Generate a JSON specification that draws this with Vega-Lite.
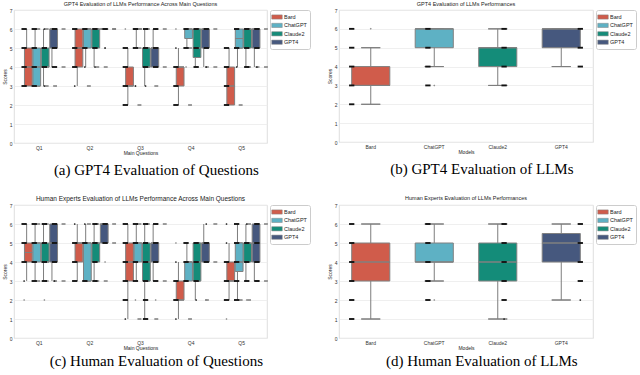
{
"$schema": "https://vega.github.io/schema/vega-lite/v6.json",
"background": "white",
"padding": {"left": 1, "top": 1, "right": 0, "bottom": 0},
"config": {
  "font": "Liberation Sans",
  "view": {"stroke": "#d6d6d6", "strokeWidth": 0.8},
  "axis": {"labelFontSize": 5, "titleFontSize": 5, "titleFontWeight": "normal", "labelColor": "#333333", "titleColor": "#222222", "ticks": false, "domain": false, "labelPadding": 2, "titlePadding": 2, "gridColor": "#ebebeb", "gridWidth": 0.8, "labelOverlap": false},
  "axisX": {"grid": false, "labelAngle": 0, "labelPadding": 2, "titlePadding": 0},
  "axisY": {"tickCount": 8, "grid": true},
  "title": {"fontSize": 5.5, "fontWeight": "normal", "color": "#222222", "offset": 1},
  "legend": {"orient": "right", "offset": 3, "padding": 3, "strokeColor": "#cccccc", "fillColor": "white", "cornerRadius": 2, "labelFontSize": 5.5, "labelColor": "#222222", "symbolType": "M-1.5,-0.6H1.5V0.6H-1.5Z", "symbolSize": 49, "symbolStrokeWidth": 0.5, "rowPadding": 0.4, "labelOffset": 3},
  "concat": {"spacing": 15}
},
"datasets": {
  "bx": [
    {"p":"a","q":"Q1","m":"Bard","lo":3,"q1":3,"md":4,"q3":5,"hi":6},
    {"p":"a","q":"Q1","m":"ChatGPT","lo":3,"q1":3,"md":4,"q3":5,"hi":6},
    {"p":"a","q":"Q1","m":"Claude2","lo":3,"q1":4,"md":4,"q3":5,"hi":6},
    {"p":"a","q":"Q1","m":"GPT4","lo":4,"q1":5,"md":6,"q3":6,"hi":6},
    {"p":"a","q":"Q2","m":"Bard","lo":3,"q1":4,"md":5,"q3":6,"hi":6},
    {"p":"a","q":"Q2","m":"ChatGPT","lo":4,"q1":5,"md":6,"q3":6,"hi":6},
    {"p":"a","q":"Q2","m":"Claude2","lo":4,"q1":5,"md":6,"q3":6,"hi":6},
    {"p":"a","q":"Q2","m":"GPT4","lo":6,"q1":6,"md":6,"q3":6,"hi":6},
    {"p":"a","q":"Q3","m":"Bard","lo":2,"q1":3,"md":3,"q3":4,"hi":5},
    {"p":"a","q":"Q3","m":"ChatGPT","lo":5,"q1":6,"md":6,"q3":6,"hi":6},
    {"p":"a","q":"Q3","m":"Claude2","lo":3,"q1":4,"md":4,"q3":5,"hi":6},
    {"p":"a","q":"Q3","m":"GPT4","lo":4,"q1":4,"md":5,"q3":5,"hi":6},
    {"p":"a","q":"Q4","m":"Bard","lo":2,"q1":3,"md":4,"q3":4,"hi":5},
    {"p":"a","q":"Q4","m":"ChatGPT","lo":5,"q1":5.5,"md":6,"q3":6,"hi":6},
    {"p":"a","q":"Q4","m":"Claude2","lo":4,"q1":4.5,"md":5,"q3":6,"hi":6},
    {"p":"a","q":"Q4","m":"GPT4","lo":4,"q1":5,"md":6,"q3":6,"hi":6},
    {"p":"a","q":"Q5","m":"Bard","lo":2,"q1":2,"md":3,"q3":4,"hi":5},
    {"p":"a","q":"Q5","m":"ChatGPT","lo":4,"q1":5,"md":5.5,"q3":6,"hi":6},
    {"p":"a","q":"Q5","m":"Claude2","lo":4,"q1":5,"md":6,"q3":6,"hi":6},
    {"p":"a","q":"Q5","m":"GPT4","lo":4,"q1":5,"md":6,"q3":6,"hi":6},
    {"p":"b","m":"Bard","lo":2,"q1":3,"md":3,"q3":4,"hi":5},
    {"p":"b","m":"ChatGPT","lo":4,"q1":5,"md":6,"q3":6,"hi":6},
    {"p":"b","m":"Claude2","lo":3,"q1":4,"md":5,"q3":5,"hi":6},
    {"p":"b","m":"GPT4","lo":4,"q1":5,"md":6,"q3":6,"hi":6},
    {"p":"c","q":"Q1","m":"Bard","lo":3,"q1":4,"md":4.5,"q3":5,"hi":6},
    {"p":"c","q":"Q1","m":"ChatGPT","lo":3,"q1":4,"md":5,"q3":5,"hi":6},
    {"p":"c","q":"Q1","m":"Claude2","lo":3,"q1":4,"md":4,"q3":5,"hi":6},
    {"p":"c","q":"Q1","m":"GPT4","lo":3,"q1":4,"md":5,"q3":6,"hi":6},
    {"p":"c","q":"Q2","m":"Bard","lo":3,"q1":4,"md":5,"q3":5,"hi":6},
    {"p":"c","q":"Q2","m":"ChatGPT","lo":3,"q1":3,"md":5,"q3":5,"hi":6},
    {"p":"c","q":"Q2","m":"Claude2","lo":3,"q1":4,"md":5,"q3":5,"hi":6},
    {"p":"c","q":"Q2","m":"GPT4","lo":5,"q1":5,"md":6,"q3":6,"hi":6},
    {"p":"c","q":"Q3","m":"Bard","lo":1,"q1":3,"md":4,"q3":5,"hi":6},
    {"p":"c","q":"Q3","m":"ChatGPT","lo":3,"q1":4,"md":5,"q3":5,"hi":6},
    {"p":"c","q":"Q3","m":"Claude2","lo":1,"q1":3,"md":4,"q3":5,"hi":6},
    {"p":"c","q":"Q3","m":"GPT4","lo":3,"q1":4,"md":5,"q3":5,"hi":6},
    {"p":"c","q":"Q4","m":"Bard","lo":1,"q1":2,"md":2,"q3":3,"hi":4},
    {"p":"c","q":"Q4","m":"ChatGPT","lo":3,"q1":3,"md":4,"q3":4,"hi":5},
    {"p":"c","q":"Q4","m":"Claude2","lo":2,"q1":3,"md":4,"q3":5,"hi":5},
    {"p":"c","q":"Q4","m":"GPT4","lo":4,"q1":4,"md":5,"q3":5,"hi":6},
    {"p":"c","q":"Q5","m":"Bard","lo":2,"q1":3,"md":3,"q3":4,"hi":5},
    {"p":"c","q":"Q5","m":"ChatGPT","lo":2,"q1":3.5,"md":4,"q3":5,"hi":6},
    {"p":"c","q":"Q5","m":"Claude2","lo":3,"q1":4,"md":5,"q3":5,"hi":6},
    {"p":"c","q":"Q5","m":"GPT4","lo":3,"q1":4,"md":5,"q3":6,"hi":6},
    {"p":"d","m":"Bard","lo":1,"q1":3,"md":4,"q3":5,"hi":6},
    {"p":"d","m":"ChatGPT","lo":3,"q1":4,"md":4,"q3":5,"hi":6},
    {"p":"d","m":"Claude2","lo":1,"q1":3,"md":4,"q3":5,"hi":6},
    {"p":"d","m":"GPT4","lo":2,"q1":4,"md":5,"q3":5.5,"hi":6}
  ],
  "fl": [
    {"p":"a","q":"Q2","m":"GPT4","s":5},
    {"p":"a","q":"Q3","m":"Bard","s":6},
    {"p":"a","q":"Q3","m":"ChatGPT","s":3},
    {"p":"a","q":"Q4","m":"Bard","s":6},
    {"p":"a","q":"Q4","m":"ChatGPT","s":4},
    {"p":"b","m":"Bard","s":6},
    {"p":"b","m":"ChatGPT","s":3},
    {"p":"c","q":"Q1","m":"Bard","s":2},
    {"p":"c","q":"Q1","m":"Claude2","s":2},
    {"p":"c","q":"Q2","m":"GPT4","s":4},
    {"p":"c","q":"Q3","m":"ChatGPT","s":2},
    {"p":"c","q":"Q3","m":"GPT4","s":2},
    {"p":"c","q":"Q4","m":"Bard","s":5},
    {"p":"c","q":"Q4","m":"GPT4","s":2},
    {"p":"c","q":"Q5","m":"Bard","s":1},
    {"p":"c","q":"Q5","m":"Claude2","s":2},
    {"p":"d","m":"ChatGPT","s":2}
  ],
  "pt": [
    {"p":"a","q":"Q1","m":"Bard","s":3,"k":"m"},{"p":"a","q":"Q1","m":"Bard","s":4,"k":"m"},{"p":"a","q":"Q1","m":"Bard","s":5,"k":"m"},{"p":"a","q":"Q1","m":"Bard","s":6,"k":"m"},
    {"p":"a","q":"Q1","m":"ChatGPT","s":3,"k":"m"},{"p":"a","q":"Q1","m":"ChatGPT","s":4,"k":"m"},{"p":"a","q":"Q1","m":"ChatGPT","s":5,"k":"m"},{"p":"a","q":"Q1","m":"ChatGPT","s":6,"k":"m"},
    {"p":"a","q":"Q1","m":"Claude2","s":3,"k":"f"},{"p":"a","q":"Q1","m":"Claude2","s":4,"k":"m"},{"p":"a","q":"Q1","m":"Claude2","s":5,"k":"m"},{"p":"a","q":"Q1","m":"Claude2","s":6,"k":"f"},
    {"p":"a","q":"Q1","m":"GPT4","s":4,"k":"m"},{"p":"a","q":"Q1","m":"GPT4","s":5,"k":"m"},{"p":"a","q":"Q1","m":"GPT4","s":6,"k":"m"},
    {"p":"a","q":"Q2","m":"Bard","s":3,"k":"f"},{"p":"a","q":"Q2","m":"Bard","s":4,"k":"m"},{"p":"a","q":"Q2","m":"Bard","s":5,"k":"m"},{"p":"a","q":"Q2","m":"Bard","s":6,"k":"m"},
    {"p":"a","q":"Q2","m":"ChatGPT","s":4,"k":"f"},{"p":"a","q":"Q2","m":"ChatGPT","s":5,"k":"m"},{"p":"a","q":"Q2","m":"ChatGPT","s":6,"k":"m"},
    {"p":"a","q":"Q2","m":"Claude2","s":4,"k":"f"},{"p":"a","q":"Q2","m":"Claude2","s":5,"k":"m"},{"p":"a","q":"Q2","m":"Claude2","s":6,"k":"m"},
    {"p":"a","q":"Q2","m":"GPT4","s":5,"k":"f"},{"p":"a","q":"Q2","m":"GPT4","s":6,"k":"m"},
    {"p":"a","q":"Q3","m":"Bard","s":2,"k":"m"},{"p":"a","q":"Q3","m":"Bard","s":3,"k":"m"},{"p":"a","q":"Q3","m":"Bard","s":4,"k":"m"},{"p":"a","q":"Q3","m":"Bard","s":5,"k":"m"},
    {"p":"a","q":"Q3","m":"ChatGPT","s":3,"k":"f"},{"p":"a","q":"Q3","m":"ChatGPT","s":5,"k":"m"},{"p":"a","q":"Q3","m":"ChatGPT","s":6,"k":"m"},
    {"p":"a","q":"Q3","m":"Claude2","s":3,"k":"f"},{"p":"a","q":"Q3","m":"Claude2","s":4,"k":"m"},{"p":"a","q":"Q3","m":"Claude2","s":5,"k":"m"},{"p":"a","q":"Q3","m":"Claude2","s":6,"k":"m"},
    {"p":"a","q":"Q3","m":"GPT4","s":4,"k":"m"},{"p":"a","q":"Q3","m":"GPT4","s":5,"k":"m"},{"p":"a","q":"Q3","m":"GPT4","s":6,"k":"m"},
    {"p":"a","q":"Q4","m":"Bard","s":2,"k":"m"},{"p":"a","q":"Q4","m":"Bard","s":3,"k":"m"},{"p":"a","q":"Q4","m":"Bard","s":4,"k":"m"},{"p":"a","q":"Q4","m":"Bard","s":5,"k":"f"},
    {"p":"a","q":"Q4","m":"ChatGPT","s":5,"k":"m"},{"p":"a","q":"Q4","m":"ChatGPT","s":6,"k":"m"},
    {"p":"a","q":"Q4","m":"Claude2","s":4,"k":"m"},{"p":"a","q":"Q4","m":"Claude2","s":5,"k":"m"},{"p":"a","q":"Q4","m":"Claude2","s":6,"k":"m"},
    {"p":"a","q":"Q4","m":"GPT4","s":4,"k":"f"},{"p":"a","q":"Q4","m":"GPT4","s":5,"k":"m"},{"p":"a","q":"Q4","m":"GPT4","s":6,"k":"m"},
    {"p":"a","q":"Q5","m":"Bard","s":2,"k":"m"},{"p":"a","q":"Q5","m":"Bard","s":3,"k":"m"},{"p":"a","q":"Q5","m":"Bard","s":4,"k":"m"},{"p":"a","q":"Q5","m":"Bard","s":5,"k":"m"},
    {"p":"a","q":"Q5","m":"ChatGPT","s":4,"k":"f"},{"p":"a","q":"Q5","m":"ChatGPT","s":5,"k":"m"},{"p":"a","q":"Q5","m":"ChatGPT","s":6,"k":"m"},
    {"p":"a","q":"Q5","m":"Claude2","s":4,"k":"m"},{"p":"a","q":"Q5","m":"Claude2","s":5,"k":"m"},{"p":"a","q":"Q5","m":"Claude2","s":6,"k":"m"},
    {"p":"a","q":"Q5","m":"GPT4","s":4,"k":"f"},{"p":"a","q":"Q5","m":"GPT4","s":5,"k":"m"},{"p":"a","q":"Q5","m":"GPT4","s":6,"k":"m"},
    {"p":"b","m":"Bard","s":2,"k":"m"},{"p":"b","m":"Bard","s":3,"k":"m"},{"p":"b","m":"Bard","s":4,"k":"m"},{"p":"b","m":"Bard","s":5,"k":"m"},{"p":"b","m":"Bard","s":6,"k":"m"},
    {"p":"b","m":"ChatGPT","s":3,"k":"m"},{"p":"b","m":"ChatGPT","s":4,"k":"m"},{"p":"b","m":"ChatGPT","s":5,"k":"m"},{"p":"b","m":"ChatGPT","s":6,"k":"m"},
    {"p":"b","m":"Claude2","s":3,"k":"m"},{"p":"b","m":"Claude2","s":4,"k":"m"},{"p":"b","m":"Claude2","s":5,"k":"m"},{"p":"b","m":"Claude2","s":6,"k":"m"},
    {"p":"b","m":"GPT4","s":4,"k":"m"},{"p":"b","m":"GPT4","s":5,"k":"m"},{"p":"b","m":"GPT4","s":6,"k":"m"},
    {"p":"c","q":"Q1","m":"Bard","s":3,"k":"f"},{"p":"c","q":"Q1","m":"Bard","s":4,"k":"m"},{"p":"c","q":"Q1","m":"Bard","s":5,"k":"m"},{"p":"c","q":"Q1","m":"Bard","s":6,"k":"m"},
    {"p":"c","q":"Q1","m":"ChatGPT","s":3,"k":"m"},{"p":"c","q":"Q1","m":"ChatGPT","s":4,"k":"m"},{"p":"c","q":"Q1","m":"ChatGPT","s":5,"k":"m"},{"p":"c","q":"Q1","m":"ChatGPT","s":6,"k":"m"},
    {"p":"c","q":"Q1","m":"Claude2","s":3,"k":"m"},{"p":"c","q":"Q1","m":"Claude2","s":4,"k":"m"},{"p":"c","q":"Q1","m":"Claude2","s":5,"k":"m"},{"p":"c","q":"Q1","m":"Claude2","s":6,"k":"m"},
    {"p":"c","q":"Q1","m":"GPT4","s":3,"k":"f"},{"p":"c","q":"Q1","m":"GPT4","s":4,"k":"m"},{"p":"c","q":"Q1","m":"GPT4","s":5,"k":"m"},{"p":"c","q":"Q1","m":"GPT4","s":6,"k":"m"},
    {"p":"c","q":"Q2","m":"Bard","s":3,"k":"m"},{"p":"c","q":"Q2","m":"Bard","s":4,"k":"m"},{"p":"c","q":"Q2","m":"Bard","s":5,"k":"m"},{"p":"c","q":"Q2","m":"Bard","s":6,"k":"f"},
    {"p":"c","q":"Q2","m":"ChatGPT","s":3,"k":"m"},{"p":"c","q":"Q2","m":"ChatGPT","s":5,"k":"m"},{"p":"c","q":"Q2","m":"ChatGPT","s":6,"k":"f"},
    {"p":"c","q":"Q2","m":"Claude2","s":3,"k":"m"},{"p":"c","q":"Q2","m":"Claude2","s":4,"k":"m"},{"p":"c","q":"Q2","m":"Claude2","s":5,"k":"m"},{"p":"c","q":"Q2","m":"Claude2","s":6,"k":"m"},
    {"p":"c","q":"Q2","m":"GPT4","s":5,"k":"m"},{"p":"c","q":"Q2","m":"GPT4","s":6,"k":"m"},
    {"p":"c","q":"Q3","m":"Bard","s":1,"k":"f"},{"p":"c","q":"Q3","m":"Bard","s":2,"k":"m"},{"p":"c","q":"Q3","m":"Bard","s":3,"k":"m"},{"p":"c","q":"Q3","m":"Bard","s":4,"k":"m"},{"p":"c","q":"Q3","m":"Bard","s":5,"k":"m"},{"p":"c","q":"Q3","m":"Bard","s":6,"k":"m"},
    {"p":"c","q":"Q3","m":"ChatGPT","s":3,"k":"m"},{"p":"c","q":"Q3","m":"ChatGPT","s":4,"k":"m"},{"p":"c","q":"Q3","m":"ChatGPT","s":5,"k":"m"},{"p":"c","q":"Q3","m":"ChatGPT","s":6,"k":"m"},
    {"p":"c","q":"Q3","m":"Claude2","s":1,"k":"m"},{"p":"c","q":"Q3","m":"Claude2","s":2,"k":"m"},{"p":"c","q":"Q3","m":"Claude2","s":3,"k":"m"},{"p":"c","q":"Q3","m":"Claude2","s":4,"k":"m"},{"p":"c","q":"Q3","m":"Claude2","s":5,"k":"m"},{"p":"c","q":"Q3","m":"Claude2","s":6,"k":"m"},
    {"p":"c","q":"Q3","m":"GPT4","s":3,"k":"m"},{"p":"c","q":"Q3","m":"GPT4","s":4,"k":"m"},{"p":"c","q":"Q3","m":"GPT4","s":5,"k":"m"},{"p":"c","q":"Q3","m":"GPT4","s":6,"k":"m"},
    {"p":"c","q":"Q4","m":"Bard","s":1,"k":"f"},{"p":"c","q":"Q4","m":"Bard","s":2,"k":"m"},{"p":"c","q":"Q4","m":"Bard","s":3,"k":"m"},{"p":"c","q":"Q4","m":"Bard","s":4,"k":"f"},
    {"p":"c","q":"Q4","m":"ChatGPT","s":3,"k":"m"},{"p":"c","q":"Q4","m":"ChatGPT","s":4,"k":"m"},{"p":"c","q":"Q4","m":"ChatGPT","s":5,"k":"m"},
    {"p":"c","q":"Q4","m":"Claude2","s":2,"k":"f"},{"p":"c","q":"Q4","m":"Claude2","s":3,"k":"m"},{"p":"c","q":"Q4","m":"Claude2","s":4,"k":"m"},{"p":"c","q":"Q4","m":"Claude2","s":5,"k":"m"},
    {"p":"c","q":"Q4","m":"GPT4","s":4,"k":"m"},{"p":"c","q":"Q4","m":"GPT4","s":5,"k":"m"},{"p":"c","q":"Q4","m":"GPT4","s":6,"k":"f"},
    {"p":"c","q":"Q5","m":"Bard","s":2,"k":"m"},{"p":"c","q":"Q5","m":"Bard","s":3,"k":"m"},{"p":"c","q":"Q5","m":"Bard","s":4,"k":"m"},{"p":"c","q":"Q5","m":"Bard","s":5,"k":"f"},{"p":"c","q":"Q5","m":"Bard","s":6,"k":"f"},
    {"p":"c","q":"Q5","m":"ChatGPT","s":2,"k":"m"},{"p":"c","q":"Q5","m":"ChatGPT","s":3,"k":"m"},{"p":"c","q":"Q5","m":"ChatGPT","s":4,"k":"m"},{"p":"c","q":"Q5","m":"ChatGPT","s":5,"k":"m"},{"p":"c","q":"Q5","m":"ChatGPT","s":6,"k":"m"},
    {"p":"c","q":"Q5","m":"Claude2","s":3,"k":"m"},{"p":"c","q":"Q5","m":"Claude2","s":4,"k":"m"},{"p":"c","q":"Q5","m":"Claude2","s":5,"k":"m"},{"p":"c","q":"Q5","m":"Claude2","s":6,"k":"f"},
    {"p":"c","q":"Q5","m":"GPT4","s":3,"k":"m"},{"p":"c","q":"Q5","m":"GPT4","s":4,"k":"m"},{"p":"c","q":"Q5","m":"GPT4","s":5,"k":"m"},{"p":"c","q":"Q5","m":"GPT4","s":6,"k":"m"},
    {"p":"d","m":"Bard","s":1,"k":"m"},{"p":"d","m":"Bard","s":2,"k":"m"},{"p":"d","m":"Bard","s":3,"k":"m"},{"p":"d","m":"Bard","s":4,"k":"m"},{"p":"d","m":"Bard","s":5,"k":"m"},{"p":"d","m":"Bard","s":6,"k":"m"},
    {"p":"d","m":"ChatGPT","s":2,"k":"m"},{"p":"d","m":"ChatGPT","s":3,"k":"m"},{"p":"d","m":"ChatGPT","s":4,"k":"m"},{"p":"d","m":"ChatGPT","s":5,"k":"m"},{"p":"d","m":"ChatGPT","s":6,"k":"m"},
    {"p":"d","m":"Claude2","s":1,"k":"f"},{"p":"d","m":"Claude2","s":2,"k":"m"},{"p":"d","m":"Claude2","s":3,"k":"m"},{"p":"d","m":"Claude2","s":4,"k":"m"},{"p":"d","m":"Claude2","s":5,"k":"m"},{"p":"d","m":"Claude2","s":6,"k":"m"},
    {"p":"d","m":"GPT4","s":2,"k":"f"},{"p":"d","m":"GPT4","s":3,"k":"m"},{"p":"d","m":"GPT4","s":4,"k":"m"},{"p":"d","m":"GPT4","s":5,"k":"m"},{"p":"d","m":"GPT4","s":6,"k":"m"}
  ]
},
"resolve": {"scale": {"color": "independent"}, "legend": {"color": "independent"}},
"spacing": 16,
"vconcat": [
 {"hconcat": [
  {"vconcat": [
   {"width": 253, "height": 133,
    "title": {"text": "GPT4 Evaluation of LLMs Performance Across Main Questions"},
    "resolve": {"scale": {"xOffset": "independent"}},
    "layer": [
     {"data": {"name": "bx"}, "transform": [{"filter": "datum.p == 'a'"}],
      "mark": {"type": "rule", "color": "#7d7d7d", "strokeWidth": 1},
      "encoding": {
       "x": {"field": "q", "type": "nominal", "scale": {"paddingInner": 0, "paddingOuter": 0}, "axis": {"title": "Main Questions"}},
       "xOffset": {"field": "m", "type": "nominal", "scale": {"domain": ["Bard","ChatGPT","Claude2","GPT4"], "paddingInner": 0, "paddingOuter": 1.333}},
       "y": {"field": "lo", "type": "quantitative", "scale": {"domain": [0, 7], "nice": false}, "axis": {"title": "Scores", "values": [0,1,2,3,4,5,6,7], "tickCount": 8, "grid": true}},
       "y2": {"field": "hi"}}},
     {"data": {"name": "bx"}, "transform": [{"filter": "datum.p == 'a'"}, {"fold": ["lo", "hi"], "as": ["w", "v"]}],
      "mark": {"type": "bar", "width": {"band": 0.45}, "fillOpacity": 0, "stroke": "#7d7d7d", "strokeWidth": 1},
      "encoding": {
       "x": {"field": "q", "type": "nominal"},
       "xOffset": {"field": "m", "type": "nominal", "scale": {"domain": ["Bard","ChatGPT","Claude2","GPT4"], "paddingInner": 0, "paddingOuter": 1.333}},
       "y": {"field": "v", "type": "quantitative"}, "y2": {"field": "v"}}},
     {"data": {"name": "bx"}, "transform": [{"filter": "datum.p == 'a'"}],
      "mark": {"type": "bar", "width": {"band": 0.92}, "stroke": "#808080", "strokeWidth": 1},
      "encoding": {
       "x": {"field": "q", "type": "nominal"},
       "xOffset": {"field": "m", "type": "nominal", "scale": {"domain": ["Bard","ChatGPT","Claude2","GPT4"], "paddingInner": 0, "paddingOuter": 1.333}},
       "y": {"field": "q1", "type": "quantitative"}, "y2": {"field": "q3"},
       "color": {"field": "m", "type": "nominal", "scale": {"domain": ["Bard","ChatGPT","Claude2","GPT4"], "range": ["#D05C4B","#5EB1C4","#148C79","#46587E"]}, "legend": {"title": null}}}},
     {"data": {"name": "bx"}, "transform": [{"filter": "datum.p == 'a'"}],
      "mark": {"type": "bar", "width": {"band": 0.92}, "fillOpacity": 0, "stroke": "#808080", "strokeWidth": 1},
      "encoding": {
       "x": {"field": "q", "type": "nominal"},
       "xOffset": {"field": "m", "type": "nominal", "scale": {"domain": ["Bard","ChatGPT","Claude2","GPT4"], "paddingInner": 0, "paddingOuter": 1.333}},
       "y": {"field": "md", "type": "quantitative"}, "y2": {"field": "md"}}},
     {"data": {"name": "fl"}, "transform": [{"filter": "datum.p == 'a'"}],
      "mark": {"type": "point", "shape": "diamond", "filled": true, "size": 4, "color": "#8a8a8a", "opacity": 1},
      "encoding": {
       "x": {"field": "q", "type": "nominal"},
       "xOffset": {"field": "m", "type": "nominal", "scale": {"domain": ["Bard","ChatGPT","Claude2","GPT4"], "paddingInner": 0, "paddingOuter": 1.333}},
       "y": {"field": "s", "type": "quantitative"}}},
     {"data": {"name": "pt"}, "transform": [{"filter": "datum.p == 'a'"}],
      "mark": {"type": "point", "filled": true, "color": "#111111", "opacity": 1},
      "encoding": {
       "x": {"field": "q", "type": "nominal"},
       "xOffset": {"field": "m", "type": "nominal", "scale": {"type": "point", "domain": ["Bard","ChatGPT","Claude2","GPT4"], "padding": 1}},
       "y": {"field": "s", "type": "quantitative"},
       "shape": {"field": "k", "type": "nominal", "scale": {"domain": ["m","f"], "range": ["M-1,-0.35H1V0.35H-1Z", "circle"]}, "legend": null},
       "size": {"field": "k", "type": "ordinal", "scale": {"domain": ["m","f"], "range": [28, 3]}, "legend": null}}}
    ]}
  ],
  "title": {"text": "(a) GPT4 Evaluation of Questions", "orient": "bottom", "anchor": "middle", "font": "Liberation Serif", "fontSize": 15, "color": "#000000", "offset": 8},
  "resolve": {"scale": {"color": "independent"}, "legend": {"color": "independent"}}},
  {"vconcat": [
   {"width": 254, "height": 132,
    "title": {"text": "GPT4 Evaluation of LLMs Performances"},
    "resolve": {"scale": {"xOffset": "independent"}},
    "layer": [
     {"data": {"name": "bx"}, "transform": [{"filter": "datum.p == 'b'"}],
      "mark": {"type": "rule", "color": "#7d7d7d", "strokeWidth": 1},
      "encoding": {
       "x": {"field": "m", "type": "nominal", "scale": {"domain": ["Bard","ChatGPT","Claude2","GPT4"], "paddingInner": 0, "paddingOuter": 0}, "axis": {"title": "Models"}},
       "y": {"field": "lo", "type": "quantitative", "scale": {"domain": [0, 7], "nice": false}, "axis": {"title": "Scores", "values": [0,1,2,3,4,5,6,7], "tickCount": 8, "grid": true}},
       "y2": {"field": "hi"}}},
     {"data": {"name": "bx"}, "transform": [{"filter": "datum.p == 'b'"}, {"fold": ["lo", "hi"], "as": ["w", "v"]}],
      "mark": {"type": "bar", "width": {"band": 0.3}, "fillOpacity": 0, "stroke": "#7d7d7d", "strokeWidth": 1},
      "encoding": {"x": {"field": "m", "type": "nominal"}, "y": {"field": "v", "type": "quantitative"}, "y2": {"field": "v"}}},
     {"data": {"name": "bx"}, "transform": [{"filter": "datum.p == 'b'"}],
      "mark": {"type": "bar", "width": {"band": 0.6}, "stroke": "#808080", "strokeWidth": 1},
      "encoding": {"x": {"field": "m", "type": "nominal"}, "y": {"field": "q1", "type": "quantitative"}, "y2": {"field": "q3"},
       "color": {"field": "m", "type": "nominal", "scale": {"domain": ["Bard","ChatGPT","Claude2","GPT4"], "range": ["#D05C4B","#5EB1C4","#148C79","#46587E"]}, "legend": {"title": null}}}},
     {"data": {"name": "bx"}, "transform": [{"filter": "datum.p == 'b'"}],
      "mark": {"type": "bar", "width": {"band": 0.6}, "fillOpacity": 0, "stroke": "#808080", "strokeWidth": 1},
      "encoding": {"x": {"field": "m", "type": "nominal"}, "y": {"field": "md", "type": "quantitative"}, "y2": {"field": "md"}}},
     {"data": {"name": "fl"}, "transform": [{"filter": "datum.p == 'b'"}],
      "mark": {"type": "point", "shape": "diamond", "filled": true, "size": 4, "color": "#8a8a8a", "opacity": 1},
      "encoding": {"x": {"field": "m", "type": "nominal"}, "y": {"field": "s", "type": "quantitative"}}},
     {"data": {"name": "pt"}, "transform": [{"filter": "datum.p == 'b'"}],
      "mark": {"type": "point", "filled": true, "color": "#111111", "opacity": 1},
      "encoding": {
       "x": {"field": "m", "type": "nominal"},
       "xOffset": {"field": "m", "type": "nominal", "scale": {"type": "point", "domain": ["Bard","ChatGPT","Claude2","GPT4"], "padding": 1}},
       "y": {"field": "s", "type": "quantitative"},
       "shape": {"field": "k", "type": "nominal", "scale": {"domain": ["m","f"], "range": ["M-1,-0.35H1V0.35H-1Z", "circle"]}, "legend": null},
       "size": {"field": "k", "type": "ordinal", "scale": {"domain": ["m","f"], "range": [28, 3]}, "legend": null}}}
    ]}
  ],
  "title": {"text": "(b) GPT4 Evaluation of LLMs", "orient": "bottom", "anchor": "middle", "font": "Liberation Serif", "fontSize": 15, "color": "#000000", "offset": 8},
  "resolve": {"scale": {"color": "independent"}, "legend": {"color": "independent"}}}
 ],
 "resolve": {"scale": {"color": "independent"}, "legend": {"color": "independent"}}},
 {"hconcat": [
  {"vconcat": [
   {"width": 253, "height": 133,
    "title": {"text": "Human Experts Evaluation of LLMs Performance Across Main Questions", "fontSize": 6.5, "offset": 0.5},
    "resolve": {"scale": {"xOffset": "independent"}},
    "layer": [
     {"data": {"name": "bx"}, "transform": [{"filter": "datum.p == 'c'"}],
      "mark": {"type": "rule", "color": "#7d7d7d", "strokeWidth": 1},
      "encoding": {
       "x": {"field": "q", "type": "nominal", "scale": {"paddingInner": 0, "paddingOuter": 0}, "axis": {"title": "Main Questions"}},
       "xOffset": {"field": "m", "type": "nominal", "scale": {"domain": ["Bard","ChatGPT","Claude2","GPT4"], "paddingInner": 0, "paddingOuter": 1.333}},
       "y": {"field": "lo", "type": "quantitative", "scale": {"domain": [0, 7], "nice": false}, "axis": {"title": "Scores", "values": [0,1,2,3,4,5,6,7], "tickCount": 8, "grid": true}},
       "y2": {"field": "hi"}}},
     {"data": {"name": "bx"}, "transform": [{"filter": "datum.p == 'c'"}, {"fold": ["lo", "hi"], "as": ["w", "v"]}],
      "mark": {"type": "bar", "width": {"band": 0.45}, "fillOpacity": 0, "stroke": "#7d7d7d", "strokeWidth": 1},
      "encoding": {
       "x": {"field": "q", "type": "nominal"},
       "xOffset": {"field": "m", "type": "nominal", "scale": {"domain": ["Bard","ChatGPT","Claude2","GPT4"], "paddingInner": 0, "paddingOuter": 1.333}},
       "y": {"field": "v", "type": "quantitative"}, "y2": {"field": "v"}}},
     {"data": {"name": "bx"}, "transform": [{"filter": "datum.p == 'c'"}],
      "mark": {"type": "bar", "width": {"band": 0.92}, "stroke": "#808080", "strokeWidth": 1},
      "encoding": {
       "x": {"field": "q", "type": "nominal"},
       "xOffset": {"field": "m", "type": "nominal", "scale": {"domain": ["Bard","ChatGPT","Claude2","GPT4"], "paddingInner": 0, "paddingOuter": 1.333}},
       "y": {"field": "q1", "type": "quantitative"}, "y2": {"field": "q3"},
       "color": {"field": "m", "type": "nominal", "scale": {"domain": ["Bard","ChatGPT","Claude2","GPT4"], "range": ["#D05C4B","#5EB1C4","#148C79","#46587E"]}, "legend": {"title": null}}}},
     {"data": {"name": "bx"}, "transform": [{"filter": "datum.p == 'c'"}],
      "mark": {"type": "bar", "width": {"band": 0.92}, "fillOpacity": 0, "stroke": "#808080", "strokeWidth": 1},
      "encoding": {
       "x": {"field": "q", "type": "nominal"},
       "xOffset": {"field": "m", "type": "nominal", "scale": {"domain": ["Bard","ChatGPT","Claude2","GPT4"], "paddingInner": 0, "paddingOuter": 1.333}},
       "y": {"field": "md", "type": "quantitative"}, "y2": {"field": "md"}}},
     {"data": {"name": "fl"}, "transform": [{"filter": "datum.p == 'c'"}],
      "mark": {"type": "point", "shape": "diamond", "filled": true, "size": 4, "color": "#8a8a8a", "opacity": 1},
      "encoding": {
       "x": {"field": "q", "type": "nominal"},
       "xOffset": {"field": "m", "type": "nominal", "scale": {"domain": ["Bard","ChatGPT","Claude2","GPT4"], "paddingInner": 0, "paddingOuter": 1.333}},
       "y": {"field": "s", "type": "quantitative"}}},
     {"data": {"name": "pt"}, "transform": [{"filter": "datum.p == 'c'"}],
      "mark": {"type": "point", "filled": true, "color": "#111111", "opacity": 1},
      "encoding": {
       "x": {"field": "q", "type": "nominal"},
       "xOffset": {"field": "m", "type": "nominal", "scale": {"type": "point", "domain": ["Bard","ChatGPT","Claude2","GPT4"], "padding": 1}},
       "y": {"field": "s", "type": "quantitative"},
       "shape": {"field": "k", "type": "nominal", "scale": {"domain": ["m","f"], "range": ["M-1,-0.35H1V0.35H-1Z", "circle"]}, "legend": null},
       "size": {"field": "k", "type": "ordinal", "scale": {"domain": ["m","f"], "range": [28, 3]}, "legend": null}}}
    ]}
  ],
  "title": {"text": "(c) Human Evaluation of Questions", "orient": "bottom", "anchor": "middle", "font": "Liberation Serif", "fontSize": 15, "color": "#000000", "offset": 4},
  "resolve": {"scale": {"color": "independent"}, "legend": {"color": "independent"}}},
  {"vconcat": [
   {"width": 254, "height": 133,
    "title": {"text": "Human Experts Evaluation of LLMs Performances", "offset": 1.5},
    "resolve": {"scale": {"xOffset": "independent"}},
    "layer": [
     {"data": {"name": "bx"}, "transform": [{"filter": "datum.p == 'd'"}],
      "mark": {"type": "rule", "color": "#7d7d7d", "strokeWidth": 1},
      "encoding": {
       "x": {"field": "m", "type": "nominal", "scale": {"domain": ["Bard","ChatGPT","Claude2","GPT4"], "paddingInner": 0, "paddingOuter": 0}, "axis": {"title": "Models"}},
       "y": {"field": "lo", "type": "quantitative", "scale": {"domain": [0, 7], "nice": false}, "axis": {"title": "Scores", "values": [0,1,2,3,4,5,6,7], "tickCount": 8, "grid": true}},
       "y2": {"field": "hi"}}},
     {"data": {"name": "bx"}, "transform": [{"filter": "datum.p == 'd'"}, {"fold": ["lo", "hi"], "as": ["w", "v"]}],
      "mark": {"type": "bar", "width": {"band": 0.3}, "fillOpacity": 0, "stroke": "#7d7d7d", "strokeWidth": 1},
      "encoding": {"x": {"field": "m", "type": "nominal"}, "y": {"field": "v", "type": "quantitative"}, "y2": {"field": "v"}}},
     {"data": {"name": "bx"}, "transform": [{"filter": "datum.p == 'd'"}],
      "mark": {"type": "bar", "width": {"band": 0.6}, "stroke": "#808080", "strokeWidth": 1},
      "encoding": {"x": {"field": "m", "type": "nominal"}, "y": {"field": "q1", "type": "quantitative"}, "y2": {"field": "q3"},
       "color": {"field": "m", "type": "nominal", "scale": {"domain": ["Bard","ChatGPT","Claude2","GPT4"], "range": ["#D05C4B","#5EB1C4","#148C79","#46587E"]}, "legend": {"title": null}}}},
     {"data": {"name": "bx"}, "transform": [{"filter": "datum.p == 'd'"}],
      "mark": {"type": "bar", "width": {"band": 0.6}, "fillOpacity": 0, "stroke": "#808080", "strokeWidth": 1},
      "encoding": {"x": {"field": "m", "type": "nominal"}, "y": {"field": "md", "type": "quantitative"}, "y2": {"field": "md"}}},
     {"data": {"name": "fl"}, "transform": [{"filter": "datum.p == 'd'"}],
      "mark": {"type": "point", "shape": "diamond", "filled": true, "size": 4, "color": "#8a8a8a", "opacity": 1},
      "encoding": {"x": {"field": "m", "type": "nominal"}, "y": {"field": "s", "type": "quantitative"}}},
     {"data": {"name": "pt"}, "transform": [{"filter": "datum.p == 'd'"}],
      "mark": {"type": "point", "filled": true, "color": "#111111", "opacity": 1},
      "encoding": {
       "x": {"field": "m", "type": "nominal"},
       "xOffset": {"field": "m", "type": "nominal", "scale": {"type": "point", "domain": ["Bard","ChatGPT","Claude2","GPT4"], "padding": 1}},
       "y": {"field": "s", "type": "quantitative"},
       "shape": {"field": "k", "type": "nominal", "scale": {"domain": ["m","f"], "range": ["M-1,-0.35H1V0.35H-1Z", "circle"]}, "legend": null},
       "size": {"field": "k", "type": "ordinal", "scale": {"domain": ["m","f"], "range": [28, 3]}, "legend": null}}}
    ]}
  ],
  "title": {"text": "(d) Human Evaluation of LLMs", "orient": "bottom", "anchor": "middle", "font": "Liberation Serif", "fontSize": 15, "color": "#000000", "offset": 4},
  "resolve": {"scale": {"color": "independent"}, "legend": {"color": "independent"}}}
 ],
 "resolve": {"scale": {"color": "independent"}, "legend": {"color": "independent"}}}
]
}
